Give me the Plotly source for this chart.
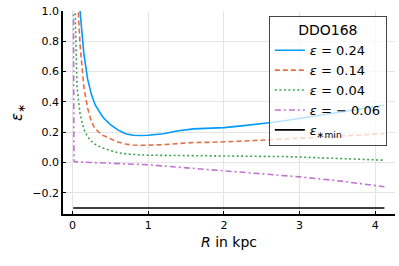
import plotly.graph_objects as go

# Data (DDO168)
R = [0.01, 0.03, 0.06, 0.1, 0.15, 0.2, 0.25, 0.3, 0.4, 0.5, 0.6, 0.7, 0.8, 0.9, 1.0,
     1.2, 1.4, 1.6, 1.8, 2.0, 2.2, 2.4, 2.6, 2.8, 3.0, 3.2, 3.4, 3.6, 3.8, 4.0, 4.12]
eps_024 = [5.0, 3.0, 1.6, 1.0, 0.72, 0.55, 0.45, 0.38, 0.30, 0.25, 0.215, 0.19, 0.18, 0.178, 0.18,
           0.19, 0.21, 0.222, 0.225, 0.23, 0.24, 0.25, 0.262, 0.275, 0.29, 0.305, 0.32, 0.335, 0.35, 0.368, 0.378]
eps_014 = [4.0, 2.0, 1.15, 0.78, 0.50, 0.36, 0.27, 0.22, 0.18, 0.155, 0.135, 0.122, 0.115, 0.113, 0.113,
           0.118, 0.125, 0.132, 0.133, 0.135, 0.14, 0.145, 0.15, 0.155, 0.16, 0.165, 0.17, 0.175, 0.18, 0.187, 0.19]
eps_004 = [2.5, 1.1, 0.5, 0.32, 0.22, 0.17, 0.14, 0.12, 0.095, 0.08, 0.065, 0.057, 0.052, 0.05, 0.048,
           0.047, 0.047, 0.046, 0.046, 0.046, 0.045, 0.044, 0.042, 0.039, 0.036, 0.033, 0.03, 0.026, 0.022, 0.018, 0.015]
R_neg = [0.01, 0.015, 0.02, 0.03, 0.1, 0.5, 1.0, 1.5, 2.0, 2.5, 3.0, 3.5, 4.0, 4.12]
eps_m006 = [1.5, 0.5, 0.01, 0.005, 0.003, -0.005, -0.015, -0.035, -0.05, -0.07, -0.095, -0.12, -0.15, -0.16]
R_min = [0.01, 4.12]
eps_min = [-0.3, -0.3]

labels = ["<i>ε</i> = 0.24", "<i>ε</i> = 0.14", "<i>ε</i> = 0.04", "<i>ε</i> = − 0.06", "<i>ε</i><sub>∗min</sub>"]
colors = ["#009AFA", "#E36F47", "#3EA44E", "#C371D2", "#000000"]
dashes = ["solid", "5px,3px", "2px,2.5px", "6px,3px,2px,3px", "solid"]

fig = go.Figure()
series = [(R, eps_024), (R, eps_014), (R, eps_004), (R_neg, eps_m006), (R_min, eps_min)]
for (xs, ys), lab, c, d in zip(series, labels, colors, dashes):
    fig.add_trace(go.Scatter(x=xs, y=ys, mode="lines", name=lab,
                             line=dict(color=c, dash=d, width=1.6)))

font = "DejaVu Sans"
fig.update_layout(
    width=399, height=266,
    margin=dict(l=63, r=4, t=11, b=52),
    paper_bgcolor="white", plot_bgcolor="white",
    font=dict(family=font, color="black", size=11),
    showlegend=True,
    legend=dict(
        title=dict(text="DDO168", font=dict(size=14), side="top center"),
        x=0.62, y=0.975, xanchor="left", yanchor="top",
        bgcolor="rgba(255,255,255,0.72)", bordercolor="#444444", borderwidth=1,
        font=dict(size=13), tracegroupgap=0, itemwidth=30,
    ),
    xaxis=dict(
        range=[-0.125, 4.26], tickvals=[0, 1, 2, 3, 4], ticktext=["0", "1", "2", "3", "4"],
        showgrid=True, gridcolor="#e5e5e5", zeroline=False, automargin=False,
        showline=True, linecolor="black", linewidth=1.5,
        ticks="inside", ticklen=3, tickcolor="black",
        title=dict(text="<i>R</i> in kpc", font=dict(size=14), standoff=6),
    ),
    yaxis=dict(
        range=[-0.34, 1.0], tickvals=[-0.2, 0.0, 0.2, 0.4, 0.6, 0.8, 1.0],
        ticktext=["−0.2", "0.0", "0.2", "0.4", "0.6", "0.8", "1.0"],
        showgrid=True, gridcolor="#e5e5e5", zeroline=False, automargin=False,
        showline=True, linecolor="black", linewidth=1.5,
        ticks="inside", ticklen=3, tickcolor="black",
        title=dict(text="<i>ε</i><sub>∗</sub>", font=dict(size=15), standoff=6),
    ),
)

fig.write_html("out.html", config={"displayModeBar": False},
               post_script="document.body.style.margin='0';document.body.style.overflow='hidden';")
